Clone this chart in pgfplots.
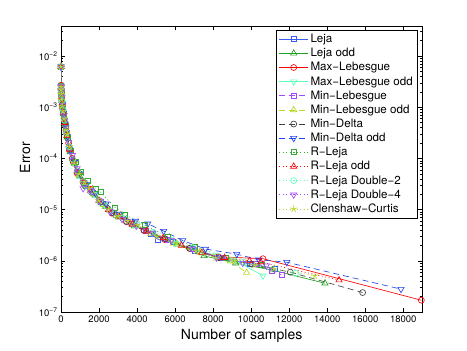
\documentclass[border=0pt]{standalone}
\usepackage{fontspec}
\setmainfont{TeX Gyre Heros}
\usepackage{pgfplots}
\pgfplotsset{compat=1.18}
\definecolor{lejablue}{HTML}{3A5CF5}
\definecolor{deltablue}{HTML}{2244EE}
\definecolor{lejagreen}{HTML}{22A022}
\definecolor{rgreen}{HTML}{33AA33}
\definecolor{aqua}{HTML}{5CFFB8}
\definecolor{violet2}{HTML}{A448FF}
\definecolor{ygreen}{HTML}{B5D922}
\definecolor{darkgray2}{HTML}{404040}

\begin{document}
\begin{tikzpicture}
\useasboundingbox (-61bp,-39bp) rectangle (406bp,312bp);
\begin{axis}[
  at={(0,0)}, anchor=south west,
  scale only axis, width=361.3bp, height=286bp,
  xmin=0, xmax=19000,
  ymode=log, ymin=1e-7, ymax=0.0387,
  xtick={0,2000,4000,6000,8000,10000,12000,14000,16000,18000},
  scaled x ticks=false,
  /pgf/number format/1000 sep={},
  /pgf/number format/assume math mode=true,
  ytick={1e-7,1e-6,1e-5,1e-4,1e-3,1e-2},
  yticklabels={10\textsuperscript{−7},10\textsuperscript{−6},10\textsuperscript{−5},
    10\textsuperscript{−4},10\textsuperscript{−3},10\textsuperscript{−2}},
  minor ytick={2e-7,3e-7,4e-7,5e-7,6e-7,7e-7,8e-7,9e-7,
    2e-6,3e-6,4e-6,5e-6,6e-6,7e-6,8e-6,9e-6,
    2e-5,3e-5,4e-5,5e-5,6e-5,7e-5,8e-5,9e-5,
    2e-4,3e-4,4e-4,5e-4,6e-4,7e-4,8e-4,9e-4,
    2e-3,3e-3,4e-3,5e-3,6e-3,7e-3,8e-3,9e-3,2e-2,3e-2},
  tick label style={font=\fontsize{9.5bp}{11bp}\selectfont},
  major tick length=4bp, minor tick length=2bp,
  tick align=inside,
  axis line style={line width=0.6pt},
  every tick/.style={black, line width=0.5pt},
  xlabel={Number of samples}, ylabel={Error},
  label style={font=\fontsize{14bp}{16bp}\selectfont},
  xlabel style={at={(axis description cs:0.5,0)}, anchor=base, yshift=-27bp},
  ylabel style={at={(axis description cs:-0.0996,0.54)}, anchor=center},
  legend style={font=\fontsize{11.6bp}{13.5bp}\selectfont, at={(0.988,0.986)},
    anchor=north east, draw=black, line width=0.5pt, row sep=0.2bp,
    inner xsep=3bp, inner ysep=2bp},
  legend cell align=left,
  legend image code/.code={\draw[mark repeat=2,mark phase=2,#1]
    plot coordinates {(0bp,0bp) (14.5bp,0bp) (29bp,0bp)};},
  every axis plot/.append style={line width=0.65pt},
]
% Leja
\addplot[lejablue, mark=square, mark size=2.5pt] coordinates {
(1,6.2e-3)(5,2.5e-3)(13,2.1e-3)(29,1.6e-3)(61,1.2e-3)(113,8.2e-4)(193,5.0e-4)
(305,2.9e-4)(457,1.5e-4)(665,8.5e-5)(929,4.9e-5)(1265,3.0e-5)(1689,2.1e-5)
(2225,1.3e-5)(2893,7.9e-6)(3713,5.3e-6)(4705,3.4e-6)(5117,2.6e-6)(5901,2.3e-6)
(7013,1.6e-6)(8345,1.15e-6)(9921,8.7e-7)(11265,7.1e-7)};
\addlegendentry{Leja}
% Leja odd
\addplot[lejagreen, mark=triangle, mark size=3.6pt] coordinates {
(1,6.2e-3)(7,2.4e-3)(17,1.9e-3)(37,1.5e-3)(73,1.1e-3)(129,7.5e-4)(209,4.6e-4)
(329,2.6e-4)(489,1.35e-4)(705,8.0e-5)(985,4.5e-5)(1345,2.8e-5)(1793,1.9e-5)
(2345,1.15e-5)(3033,7.2e-6)(3873,4.8e-6)(4889,3.3e-6)(6097,2.1e-6)(7521,1.25e-6)
(9185,9.0e-7)(11113,6.6e-7)(13881,3.65e-7)};
\addlegendentry{Leja odd}
% Max-Lebesgue
\addplot[red, mark=o, mark size=3pt] coordinates {
(1,6.2e-3)(4,2.7e-3)(10,2.2e-3)(22,1.7e-3)(46,1.3e-3)(90,9.5e-4)(160,6.0e-4)
(260,3.5e-4)(400,2.0e-4)(590,1.0e-4)(840,5.2e-5)(1160,3.5e-5)(1560,2.5e-5)
(2060,1.45e-5)(2680,8.5e-6)(3440,5.8e-6)(4360,4.0e-6)(5460,2.6e-6)(6760,1.75e-6)
(8280,1.2e-6)(10620,1.1e-6)(18950,1.7e-7)};
\addlegendentry{Max−Lebesgue}
% Max-Lebesgue odd
\addplot[aqua, mark=triangle, mark size=3.6pt, mark options={rotate=180}] coordinates {
(1,6.2e-3)(6,2.5e-3)(15,2.0e-3)(33,1.6e-3)(67,1.15e-3)(121,7.8e-4)(201,4.8e-4)
(317,2.7e-4)(473,1.4e-4)(685,8.2e-5)(957,4.7e-5)(1305,2.9e-5)(1741,2.0e-5)
(2285,1.25e-5)(2963,7.6e-6)(3793,5.1e-6)(4797,3.5e-6)(6001,2.2e-6)(7421,1.5e-6)
(9081,1.05e-6)(10621,5.1e-7)};
\addlegendentry{Max−Lebesgue odd}
% Min-Lebesgue
\addplot[violet2, dash pattern=on 6bp off 4bp, mark=square, mark size=2.5pt,
  mark options={solid}] coordinates {
(1,6.2e-3)(5,2.6e-3)(12,2.2e-3)(26,1.7e-3)(54,1.25e-3)(104,8.8e-4)(178,5.4e-4)
(284,3.1e-4)(430,1.6e-4)(626,9.0e-5)(880,5.4e-5)(1202,3.3e-5)(1608,2.2e-5)
(2120,1.4e-5)(2760,8.7e-6)(3540,5.9e-6)(4480,3.9e-6)(5600,2.6e-6)(6920,1.7e-6)
(8460,1.15e-6)(10260,8.8e-7)(11100,6.5e-7)(11600,5.3e-7)};
\addlegendentry{Min−Lebesgue}
% Min-Lebesgue odd
\addplot[ygreen, dash pattern=on 6bp off 4bp, mark=triangle, mark size=3.6pt,
  mark options={solid}] coordinates {
(1,6.2e-3)(6,2.4e-3)(14,2.0e-3)(30,1.6e-3)(62,1.2e-3)(116,8.0e-4)(196,4.9e-4)
(310,2.8e-4)(462,1.45e-4)(670,8.4e-5)(936,4.8e-5)(1276,3.0e-5)(1704,2.0e-5)
(2240,1.25e-5)(2912,7.7e-6)(3728,5.2e-6)(4716,3.4e-6)(5900,2.2e-6)(7300,1.45e-6)
(8900,9.8e-7)(9760,5.9e-7)};
\addlegendentry{Min−Lebesgue odd}
% Min-Delta
\addplot[darkgray2, dash pattern=on 6bp off 4bp, mark=o, mark size=3pt,
  mark options={solid}] coordinates {
(1,6.2e-3)(4,2.6e-3)(11,2.1e-3)(24,1.7e-3)(50,1.25e-3)(96,9.0e-4)(168,5.6e-4)
(272,3.2e-4)(414,1.7e-4)(604,9.5e-5)(852,5.6e-5)(1168,3.4e-5)(1564,2.3e-5)
(2062,1.4e-5)(2682,8.8e-6)(3444,5.9e-6)(4364,3.9e-6)(5462,2.7e-6)(6762,1.75e-6)
(8282,1.15e-6)(10042,8.6e-7)(12062,6.0e-7)(15862,2.4e-7)};
\addlegendentry{Min−Delta}
% Min-Delta odd
\addplot[deltablue, dash pattern=on 6bp off 4bp, mark=triangle, mark size=3.6pt,
  mark options={solid, rotate=180}] coordinates {
(1,6.2e-3)(6,2.5e-3)(16,2.0e-3)(36,1.55e-3)(72,1.15e-3)(130,7.7e-4)(214,4.7e-4)
(334,2.7e-4)(496,1.45e-4)(712,8.5e-5)(992,5.0e-5)(1352,3.1e-5)(1806,2.1e-5)
(2372,1.3e-5)(3070,8.2e-6)(3920,6.0e-6)(4560,5.3e-6)(5400,3.8e-6)(6400,2.5e-6)
(7600,1.7e-6)(9240,1.35e-6)(10400,1.05e-6)(11870,9.4e-7)(17880,2.8e-7)};
\addlegendentry{Min−Delta odd}
% R-Leja
\addplot[rgreen, dash pattern=on 1bp off 2.5bp, mark=square, mark size=2.5pt,
  mark options={solid}] coordinates {
(1,6.2e-3)(3,2.6e-3)(9,2.2e-3)(19,1.8e-3)(41,1.4e-3)(79,1.05e-3)(141,7.0e-4)
(233,4.3e-4)(361,2.5e-4)(533,1.4e-4)(757,8.6e-5)(1041,5.6e-5)(1393,3.6e-5)
(1821,2.6e-5)(2085,2.2e-5)(2841,1.1e-5)(3381,8.0e-6)(4401,5.0e-6)(5617,3.0e-6)
(7041,1.9e-6)(8685,1.15e-6)(10561,8.5e-7)};
\addlegendentry{R−Leja}
% R-Leja odd
\addplot[red, dash pattern=on 1bp off 2.5bp, mark=triangle, mark size=3.6pt,
  mark options={solid}] coordinates {
(1,6.2e-3)(5,2.5e-3)(13,2.1e-3)(31,1.6e-3)(65,1.2e-3)(119,8.0e-4)(199,5.0e-4)
(311,2.8e-4)(461,1.5e-4)(655,9.0e-5)(899,5.5e-5)(1199,3.5e-5)(1561,2.3e-5)
(1991,1.5e-5)(2495,1.0e-5)(3079,7.2e-6)(3749,5.2e-6)(4511,3.8e-6)(5371,2.8e-6)
(6335,2.0e-6)(7409,1.45e-6)(8599,1.15e-6)(9911,1.0e-6)(10500,9.5e-7)(14620,4.2e-7)};
\addlegendentry{R−Leja odd}
% R-Leja Double-2
\addplot[aqua, dash pattern=on 1bp off 2.5bp, mark=o, mark size=3pt,
  mark options={solid}] coordinates {
(1,6.2e-3)(5,2.5e-3)(13,2.1e-3)(29,1.7e-3)(61,1.3e-3)(109,9.0e-4)(181,5.6e-4)
(285,3.2e-4)(429,1.7e-4)(621,9.6e-5)(869,5.6e-5)(1181,3.5e-5)(1565,2.3e-5)
(2029,1.45e-5)(2581,9.5e-6)(3229,6.8e-6)(3981,5.0e-6)(4845,3.6e-6)(5829,2.5e-6)
(6941,1.8e-6)(8189,1.25e-6)(9581,9.5e-7)(12341,5.7e-7)};
\addlegendentry{R−Leja Double−2}
% R-Leja Double-4
\addplot[violet2, dash pattern=on 1bp off 2.5bp, mark=triangle, mark size=3.6pt,
  mark options={solid, rotate=180}] coordinates {
(1,6.2e-3)(5,2.6e-3)(17,2.1e-3)(41,1.55e-3)(89,1.1e-3)(161,7.0e-4)(265,4.0e-4)
(409,2.1e-4)(601,1.15e-4)(849,6.4e-5)(1161,2.6e-5)(1545,2.4e-5)(2009,1.5e-5)
(2561,9.3e-6)(3209,6.5e-6)(3961,4.8e-6)(4825,3.5e-6)(5809,2.5e-6)(6921,1.7e-6)
(8169,1.15e-6)(9561,9.0e-7)(10800,8.0e-7)};
\addlegendentry{R−Leja Double−4}
% Clenshaw-Curtis
\addplot[ygreen, dash pattern=on 1bp off 2.5bp, mark=star, mark size=3.6pt,
  mark options={solid}] coordinates {
(1,6.2e-3)(5,2.5e-3)(9,2.2e-3)(17,1.8e-3)(33,1.4e-3)(65,1.05e-3)(97,8.5e-4)
(161,6.0e-4)(257,3.6e-4)(321,3.0e-4)(449,1.7e-4)(705,8.0e-5)(961,5.0e-5)
(1217,3.4e-5)(1473,2.6e-5)(1985,1.5e-5)(2497,1.0e-5)(3009,7.5e-6)(3521,6.0e-6)
(4033,5.0e-6)(5057,3.0e-6)(6081,2.2e-6)(7105,1.55e-6)(8129,1.15e-6)(9153,1.0e-6)
(10177,8.2e-7)(11201,7.0e-7)(13349,5.1e-7)};
\addlegendentry{Clenshaw−Curtis}
\end{axis}
\end{tikzpicture}
\end{document}
